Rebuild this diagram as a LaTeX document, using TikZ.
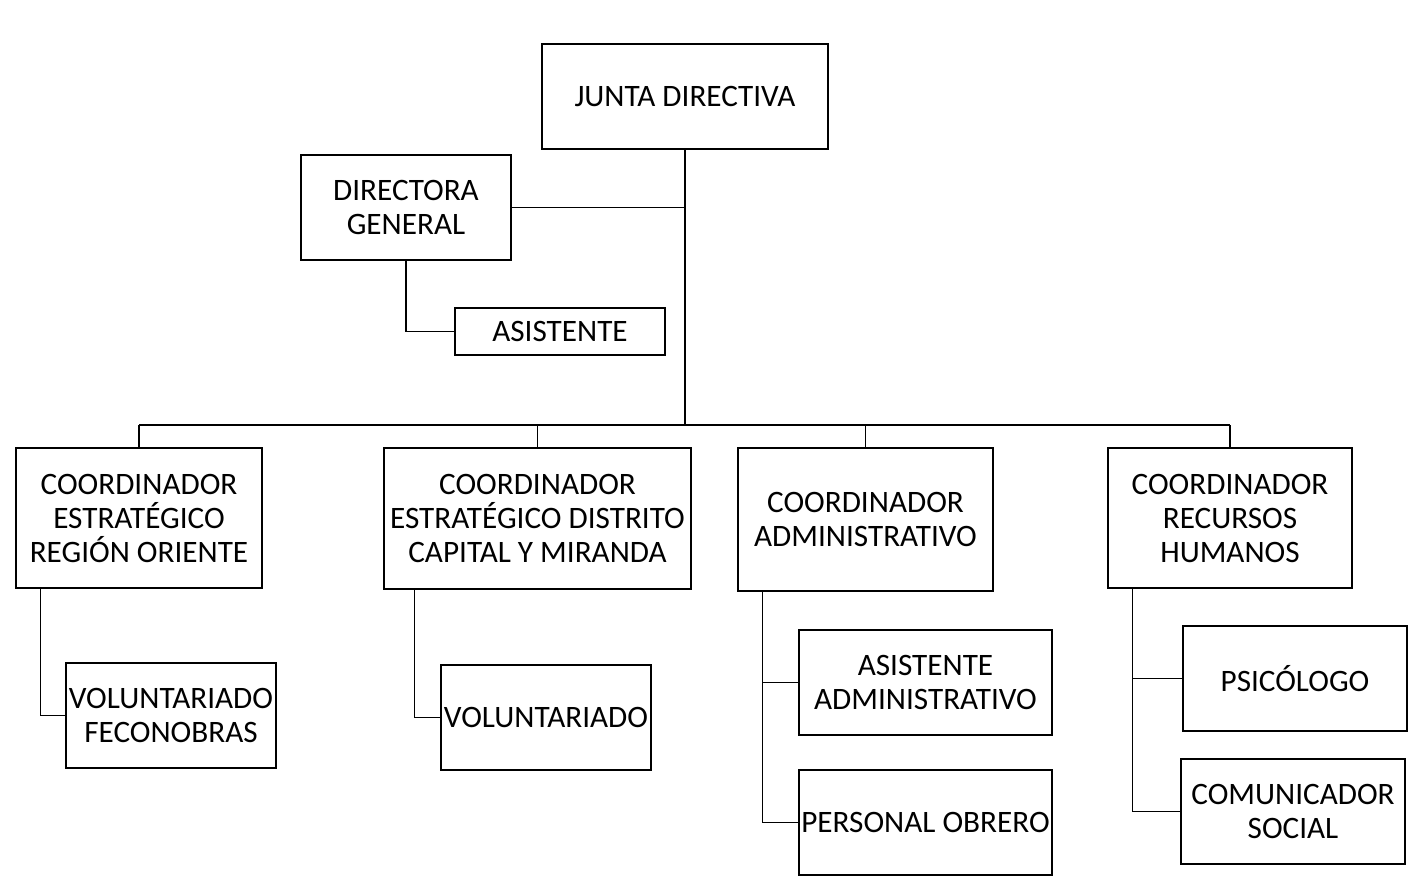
\documentclass[tikz,border=0pt]{standalone}
\usepackage{fontspec}
\setmainfont{Carlito}
\begin{document}
\begin{tikzpicture}[x=1pt,y=-1pt,
  box/.style={draw, line width=1.5pt, align=center, inner sep=0pt, font=\fontsize{31.2}{34}\selectfont},
  conn/.style={line width=1.5pt}]
\useasboundingbox[fill=white] (0,0) rectangle (1421,889);
\node[box, minimum width=286pt, minimum height=105pt] (junta) at (685,96.5) {JUNTA DIRECTIVA};
\node[box, minimum width=210pt, minimum height=105pt] (dir) at (406,207.5) {DIRECTORA\\GENERAL};
\node[box, minimum width=210pt, minimum height=47pt] (asis) at (560,331.5) {ASISTENTE};
\node[box, minimum width=246pt, minimum height=140pt] (c1) at (139,518) {COORDINADOR\\ESTRATÉGICO\\REGIÓN ORIENTE};
\node[box, minimum width=307pt, minimum height=141pt] (c2) at (537.5,518.5) {COORDINADOR\\ESTRATÉGICO DISTRITO\\CAPITAL Y MIRANDA};
\node[box, minimum width=255pt, minimum height=143pt] (c3) at (865.5,519.5) {COORDINADOR\\ADMINISTRATIVO};
\node[box, minimum width=244pt, minimum height=140pt] (c4) at (1230,518) {COORDINADOR\\RECURSOS\\HUMANOS};
\node[box, minimum width=210pt, minimum height=105pt] (v1) at (171,715.5) {VOLUNTARIADO\\FECONOBRAS};
\node[box, minimum width=210pt, minimum height=105pt] (v2) at (546,717.5) {VOLUNTARIADO};
\node[box, minimum width=253pt, minimum height=105pt] (aa) at (925.5,682.5) {ASISTENTE\\ADMINISTRATIVO};
\node[box, minimum width=253pt, minimum height=105pt] (po) at (925.5,822.5) {PERSONAL OBRERO};
\node[box, minimum width=224pt, minimum height=105pt] (psi) at (1295,678.5) {PSICÓLOGO};
\node[box, minimum width=224pt, minimum height=105pt] (com) at (1293,811.5) {COMUNICADOR\\SOCIAL};
\coordinate (bus) at (685,425);
\draw[conn] (junta.south) -- (bus);
\draw[conn] (dir.east) -- (dir.east -| junta.south);
\draw[conn] (dir.south) |- (asis.west);
\draw[conn] (c1.north |- bus) -- (c4.north |- bus);
\draw[conn] (c1.north) -- (c1.north |- bus);
\draw[conn] (c2.north) -- (c2.north |- bus);
\draw[conn] (c3.north) -- (c3.north |- bus);
\draw[conn] (c4.north) -- (c4.north |- bus);
\coordinate (b1) at ([xshift=25pt]c1.south west);
\coordinate (b2) at ([xshift=31pt]c2.south west);
\coordinate (b3) at ([xshift=25pt]c3.south west);
\coordinate (b4) at ([xshift=25pt]c4.south west);
\draw[conn] (b1) |- (v1.west);
\draw[conn] (b2) |- (v2.west);
\draw[conn] (b3) |- (po.west);
\draw[conn] (b3 |- aa.west) -- (aa.west);
\draw[conn] (b4) |- (com.west);
\draw[conn] (b4 |- psi.west) -- (psi.west);
\end{tikzpicture}
\end{document}
